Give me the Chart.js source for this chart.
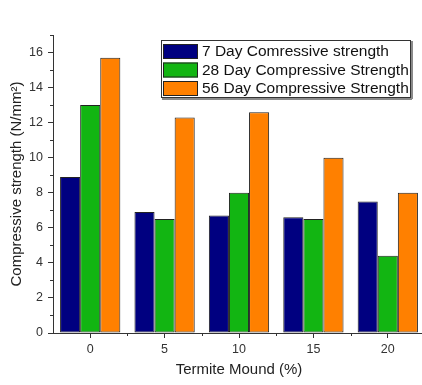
<!DOCTYPE html>
<html>
<head>
<meta charset="utf-8">
<script src="https://cdn.jsdelivr.net/npm/chart.js@4/dist/chart.umd.min.js"></script>
<style>
    html, body { margin: 0; padding: 0; background: #fff; overflow: hidden; }
    #wrap { width: 425px; height: 385px; }
</style>
</head>
<body>
<div id="wrap"><canvas id="chart" width="425" height="385"></canvas></div>
<script>
// Termite mound replacement (%)
const mound = ['0', '5', '10', '15', '20'];

// Compressive strength (N/mm²)
const day7 = [8.9, 6.9, 6.7, 6.6, 7.5];
const day28 = [13.0, 6.5, 8.0, 6.5, 4.4];
const day56 = [15.7, 12.3, 12.6, 10.0, 8.0];

const seriesNames = [
    '7 Day Comressive strength',
    '28 Day Compressive Strength',
    '56 Day Compressive Strength',
];
const seriesColours = ['#000080', '#12b512', '#ff8000'];

const FONT = "'Liberation Sans', Arial, sans-serif";

/**
 * Minor tick marks on both axes, drawn from the scales
 */
const minorTicks = {
    id: 'minorTicks',
    afterDraw: (chart) => {
        const ctx = chart.ctx;
        const x = chart.scales.x;
        const y = chart.scales.y;
        ctx.save();
        ctx.strokeStyle = '#333';
        ctx.lineWidth = 1;
        ctx.beginPath();
        // y: odd values
        for (let v = 1; v <= y.max; v += 2) {
            const py = Math.round(y.getPixelForValue(v)) + 0.5;
            ctx.moveTo(y.right - 3, py);
            ctx.lineTo(y.right, py);
        }
        // x: category boundaries
        const half = (x.getPixelForValue(1) - x.getPixelForValue(0)) / 2;
        for (let i = 0; i < mound.length; i++) {
            const px = Math.round(x.getPixelForValue(i) + half) + 0.5;
            ctx.moveTo(px, x.top);
            ctx.lineTo(px, x.top + 3);
        }
        ctx.stroke();
        ctx.restore();
    },
};

/**
 * Boxed legend in the top right of the plot
 */
const boxLegend = {
    id: 'boxLegend',
    afterDraw: (chart) => {
        const ctx = chart.ctx;
        const left = 161, top = 40, width = 250, height = 58;
        ctx.save();
        // shadow
        ctx.fillStyle = '#8a8a8a';
        ctx.fillRect(left + 1, top + height, width, 2);
        ctx.fillRect(left + width, top + 1, 2, height);
        ctx.fillStyle = '#fff';
        ctx.fillRect(left, top, width, height);
        ctx.strokeStyle = '#333';
        ctx.lineWidth = 1;
        ctx.strokeRect(left + 0.5, top + 0.5, width - 1, height - 1);

        ctx.font = '15.5px ' + FONT;
        ctx.textBaseline = 'middle';
        chart.data.datasets.forEach((ds, i) => {
            const sy = top + 4 + i * 18.5;
            ctx.fillStyle = ds.backgroundColor;
            ctx.fillRect(163, sy, 35, 15);
            ctx.strokeStyle = '#222';
            ctx.strokeRect(163.5, sy + 0.5, 34, 14);
            ctx.fillStyle = '#111';
            ctx.fillText(ds.label, 202, sy + 8);
        });
        ctx.restore();
    },
};

new Chart(document.getElementById('chart'), {
    type: 'bar',
    data: {
        labels: mound,
        datasets: [day7, day28, day56].map((values, i) => ({
            label: seriesNames[i],
            data: values,
            backgroundColor: seriesColours[i],
            borderColor: '#222',
            borderWidth: 1,
            borderSkipped: false,
        })),
    },
    plugins: [minorTicks, boxLegend],
    options: {
        responsive: false,
        animation: false,
        layout: {
            padding: { top: 35, right: 0, bottom: 0, left: 0 },
        },
        plugins: {
            legend: { display: false },
            tooltip: { enabled: false },
        },
        datasets: {
            bar: {
                categoryPercentage: 0.81,
                barPercentage: 1,
            },
        },
        scales: {
            x: {
                afterFit: (scale) => { scale.height = 52; },
                grid: {
                    drawOnChartArea: false,
                    offset: false,
                    tickLength: 5,
                    color: '#333',
                },
                border: { color: '#333', width: 1 },
                ticks: {
                    color: '#333',
                    padding: 4,
                    font: { family: FONT, size: 12.5 },
                },
                title: {
                    display: true,
                    text: 'Termite Mound (%)',
                    color: '#222',
                    font: { family: FONT, size: 15 },
                    padding: { top: 0, bottom: 6 },
                },
            },
            y: {
                min: 0,
                max: 17,
                afterFit: (scale) => { scale.width = 53; },
                grid: {
                    drawOnChartArea: false,
                    tickLength: 5,
                    color: (c) => (c.tick && c.tick.value % 2 === 0 ? '#333' : 'rgba(0,0,0,0)'),
                },
                border: { color: '#333', width: 1 },
                ticks: {
                    stepSize: 1,
                    color: '#333',
                    padding: 5,
                    autoSkip: false,
                    font: { family: FONT, size: 12.5 },
                    callback: (v) => (v % 2 === 0 ? v : ''),
                },
                title: {
                    display: true,
                    text: 'Compressive strength (N/mm²)',
                    color: '#222',
                    font: { family: FONT, size: 15 },
                    padding: { top: 8, bottom: 0 },
                },
            },
        },
    },
});
</script>
</body>
</html>
